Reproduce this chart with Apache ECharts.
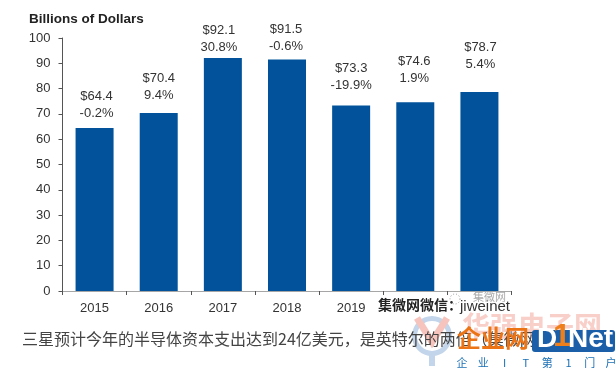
<!DOCTYPE html>
<html><head><meta charset="utf-8">
<script src="https://cdn.jsdelivr.net/npm/echarts@6/dist/echarts.min.js"></script>
<style>html,body{margin:0;padding:0;background:#fff}#c{width:615px;height:368px}</style>
</head><body><div id="c"></div>
<script>
const years = ['2015','2016','2017','2018','2019','2020','2021'];
const capex = [64.4,70.4,92.1,91.5,73.3,74.6,78.7];
const growth = ['-0.2%','9.4%','30.8%','-0.6%','-19.9%','1.9%','5.4%'];
const axisLabels = ['2015','2016','2017','2018','2019','',''];
const labelGaps = [6,9,2,5,12,15,19];
const labelShift = [2,0,-4,-1,0,-1,1];
const sloganChars = ['企','业','I','T','第','1','门','户'];
const sans = '"Liberation Sans", Arial, sans-serif';
const cjk = '"Noto Sans CJK SC", sans-serif';
const chart = echarts.init(document.getElementById('c'));
chart.setOption({
  animation:false,
  backgroundColor:'#fff',
  grid:{left:62.5,right:103.5,top:38,bottom:77},
  xAxis:{type:'category',data:years,
    axisLine:{lineStyle:{color:'#a6a6a6',width:1}},
    axisTick:{show:true,length:4,lineStyle:{color:'#555'}},
    axisLabel:{color:'#333',fontFamily:sans,fontSize:13,margin:11,
      formatter:(v,i)=>axisLabels[i]}},
  yAxis:{type:'value',min:0,max:100,interval:10,
    splitLine:{show:false},
    axisLine:{show:true,lineStyle:{color:'#555',width:1}},
    axisTick:{show:true,length:4,lineStyle:{color:'#555'}},
    axisLabel:{color:'#333',fontFamily:sans,fontSize:13,margin:12}},
  series:[{type:'bar',barWidth:38,
    itemStyle:{color:'#01529b'},
    data:capex.map((v,i)=>({value:v,label:{distance:labelGaps[i],offset:[labelShift[i],0]}})),
    label:{show:true,position:'top',color:'#333',fontFamily:sans,fontSize:13,lineHeight:17,
      formatter:p=>'$'+capex[p.dataIndex].toFixed(1)+'\n'+growth[p.dataIndex]}}],
  graphic:[
    {type:'text',left:29,top:12,style:{text:'Billions of Dollars',font:'bold 13.5px '+sans,fill:'#222'}},
    // faint watermark
    {type:'text',left:462,top:312,z:1,style:{text:'华强电子网',font:'bold 28px '+cjk,fill:'#f8cfc9'}},
    {type:'ring',shape:{cx:432,cy:336,r:20,r0:15},z:1,style:{fill:'#c3d5ea'}},
    {type:'rect',shape:{x:429,y:354,width:6,height:12},z:1,style:{fill:'#c3d5ea'}},
    {type:'polyline',shape:{points:[[417,318],[432,342],[447,318]]},z:2,style:{stroke:'#f6c4bd',lineWidth:7,fill:'none'}},
    // caption
    {type:'text',left:22,top:331,z:3,style:{text:'三星预计今年的半导体资本支出达到24亿美元，是英特尔的两倍（集微网）',font:'16px '+cjk,fill:'#444'}},
    // wechat watermark
    {type:'text',left:378,top:298,z:4,style:{text:'集微网微信：',font:'bold 14px '+cjk,fill:'#222'}},
    {type:'text',left:460,top:299,z:4,style:{text:'jiweinet',font:'15px '+sans,fill:'#333'}},
    {type:'text',left:473,top:291,z:4,style:{text:'集微网',font:'11px '+cjk,fill:'#aaa'}},
    {type:'circle',shape:{cx:455,cy:299,r:5},z:4,style:{fill:'none',stroke:'#999',lineWidth:1,lineDash:[1,2]}},
    // D1Net logo
    {type:'rect',shape:{x:532,y:330,width:83,height:22,r:3},z:5,style:{fill:'#1a5fa8'}},
    {type:'text',left:537,top:325,z:6,style:{text:'D',font:'bold 28px '+sans,fill:'#fff'}},
    {type:'text',left:553,top:321,z:6,style:{text:'1',font:'bold 32px '+sans,fill:'#ee7f1b'}},
    {type:'text',left:568,top:325,z:6,style:{text:'Net',font:'bold 28px '+sans,fill:'#fff'}},
    {type:'text',left:457,top:326,z:6,style:{text:'企业网',font:'bold 24px '+cjk,fill:'#ec7414'}},
    ...sloganChars.map((ch,i)=>({type:'text',x:462+i*21.3,y:363,z:6,
      style:{text:ch,font:'11px '+cjk,fill:'#1a6fb5',align:'center',verticalAlign:'middle'}}))
  ]
});
</script></body></html>
